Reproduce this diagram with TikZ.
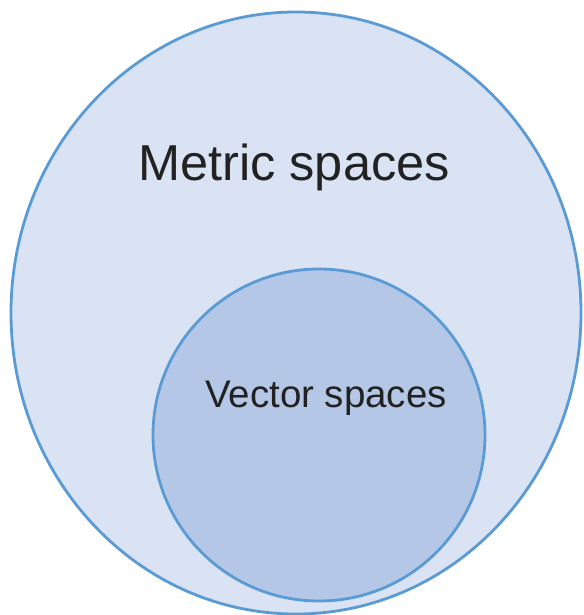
\documentclass[tikz,border=0pt]{standalone}
\usepackage{fontspec}
\setmainfont{Liberation Sans}
\definecolor{outerfill}{HTML}{DAE3F3}
\definecolor{innerfill}{HTML}{B4C7E7}
\definecolor{edge}{HTML}{5B9BD5}
\definecolor{txt}{HTML}{222222}
\begin{document}
\begin{tikzpicture}[x=1pt,y=-1pt,
  setshape/.style={draw=edge,line width=2.8pt},
  lbl/.style={text=txt,anchor=base,inner sep=0pt}]
\useasboundingbox (0,0) rectangle (583,615);
\fill[white] (0,0) rectangle (583,615);
\draw[setshape,fill=outerfill] (296,313) ellipse [x radius=285, y radius=301];
\draw[setshape,fill=innerfill] (319,435) circle [radius=166];
\node[lbl,font=\fontsize{50.5}{60}\selectfont] (metric) at (294,180) {Metric spaces};
\node[lbl,font=\fontsize{38.5}{46}\selectfont] (vector) at (326,407) {Vector spaces};
\end{tikzpicture}
\end{document}
